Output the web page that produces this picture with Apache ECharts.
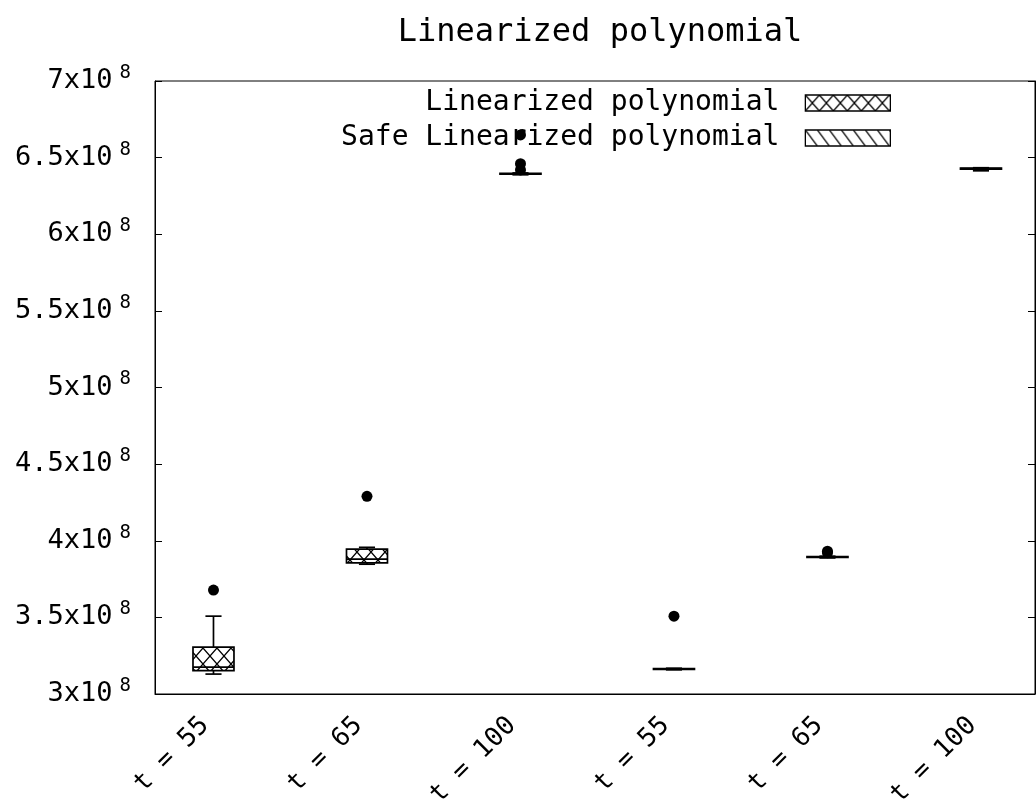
<!DOCTYPE html>
<html><head><meta charset="utf-8">
<script src="https://cdn.jsdelivr.net/npm/echarts@6/dist/echarts.min.js"></script>
<style>html,body{margin:0;padding:0;background:#fff}#c{width:1036px;height:805px}</style>
</head><body><div id="c"></div>
<script>
// ---- data ----
const chartTitle = 'Linearized polynomial';
const categories = ['t = 55', 't = 65', 't = 100', 't = 55', 't = 65', 't = 100'];
const seriesNames = ['Linearized polynomial', 'Safe Linearized polynomial'];
// [x, min, Q1, median, Q3, max]
const linearizedBoxes = [
  [1, 3.130e8, 3.153e8, 3.176e8, 3.306e8, 3.508e8],
  [2, 3.847e8, 3.855e8, 3.880e8, 3.945e8, 3.957e8],
  [3, 6.388e8, 6.392e8, 6.394e8, 6.397e8, 6.400e8]
];
const safeBoxes = [
  [4, 3.158e8, 3.161e8, 3.163e8, 3.166e8, 3.168e8],
  [5, 3.888e8, 3.891e8, 3.893e8, 3.896e8, 3.899e8],
  [6, 6.414e8, 6.425e8, 6.428e8, 6.431e8, 6.434e8]
];
const linearizedOutliers = [[1, 3.678e8], [2, 4.290e8], [3, 6.460e8], [3, 6.420e8], [3, 6.648e8]];
const safeOutliers = [[4, 3.508e8], [5, 3.932e8], [5, 3.922e8]];
const yMin = 3e8, yMax = 7e8, yStep = 0.5e8;

// ---- styles ----
const FONT = 'DejaVu Sans Mono';
const BOX_WIDTH = 0.267;
const CAP_WIDTH = 0.105;

function makePattern(type) {
  const w = type === 'cross' ? 14 : 12, h = 16;
  const c = document.createElement('canvas');
  c.width = w; c.height = h;
  const g = c.getContext('2d');
  g.fillStyle = '#fff'; g.fillRect(0, 0, w, h);
  g.strokeStyle = '#000'; g.lineWidth = 1.3;
  g.beginPath();
  g.moveTo(0, 0); g.lineTo(w, h);
  if (type === 'cross') { g.moveTo(w, 0); g.lineTo(0, h); }
  g.stroke();
  return { image: c, repeat: 'repeat' };
}
const crossPattern = makePattern('cross');
const diagPattern = makePattern('diag');

function boxRenderer(pattern) {
  return function (params, api) {
    const x = api.value(0);
    const pMin = api.coord([x, api.value(1)]);
    const pQ1 = api.coord([x, api.value(2)]);
    const pMed = api.coord([x, api.value(3)]);
    const pQ3 = api.coord([x, api.value(4)]);
    const pMax = api.coord([x, api.value(5)]);
    const bw = api.size([BOX_WIDTH, 0])[0];
    const cw = api.size([CAP_WIDTH, 0])[0];
    const cx = pMed[0];
    const ls = { stroke: '#000', lineWidth: 1.7 };
    return {
      type: 'group',
      children: [
        { type: 'line', shape: { x1: cx, y1: pQ3[1], x2: cx, y2: pMax[1] }, style: ls },
        { type: 'line', shape: { x1: cx, y1: pQ1[1], x2: cx, y2: pMin[1] }, style: ls },
        { type: 'line', shape: { x1: cx - cw / 2, y1: pMax[1], x2: cx + cw / 2, y2: pMax[1] }, style: ls },
        { type: 'line', shape: { x1: cx - cw / 2, y1: pMin[1], x2: cx + cw / 2, y2: pMin[1] }, style: ls },
        { type: 'rect', shape: { x: cx - bw / 2, y: pQ3[1], width: bw, height: pQ1[1] - pQ3[1] },
          style: { fill: pattern, stroke: '#000', lineWidth: 1.7 } },
        { type: 'line', shape: { x1: cx - bw / 2, y1: pMed[1], x2: cx + bw / 2, y2: pMed[1] }, style: ls }
      ]
    };
  };
}

const legendCommon = {
  orient: 'vertical', align: 'right', right: 145, itemWidth: 85, itemHeight: 16,
  padding: 0, selectedMode: false,
  textStyle: { fontFamily: FONT, fontSize: 28, color: '#000', lineHeight: 30, padding: [0, 21, 0, 0] }
};

const chart = echarts.init(document.getElementById('c'), null, { renderer: 'canvas' });
chart.setOption({
  animation: false,
  backgroundColor: '#fff',
  title: {
    text: chartTitle, left: 595, top: 12, textAlign: 'center',
    textStyle: { fontFamily: FONT, fontSize: 32, fontWeight: 'normal', color: '#000' }
  },
  legend: [
    Object.assign({}, legendCommon, { top: 88, data: [{ name: seriesNames[0], icon: 'rect',
      itemStyle: { color: crossPattern, borderColor: '#000', borderWidth: 1.3 } }] }),
    Object.assign({}, legendCommon, { top: 123, data: [{ name: seriesNames[1], icon: 'rect',
      itemStyle: { color: diagPattern, borderColor: '#000', borderWidth: 1.3 } }] })
  ],
  grid: { left: 155, right: 1, top: 81, bottom: 111, containLabel: false, outerBoundsMode: 'none',
    show: true, borderColor: '#000', borderWidth: 1, backgroundColor: 'transparent' },
  xAxis: {
    type: 'value', min: 0.619, max: 6.352,
    axisLine: { show: true, lineStyle: { color: '#000', width: 1 } },
    axisTick: { show: false },
    splitLine: { show: false },
    axisLabel: {
      customValues: [1, 2, 3, 4, 5, 6],
      formatter: v => categories[Math.round(v) - 1],
      rotate: 45, margin: 19, padding: [0, 12, 0, 0],
      fontFamily: FONT, fontSize: 26, color: '#000'
    }
  },
  yAxis: [{
    type: 'value', min: yMin, max: yMax, interval: yStep,
    axisLine: { show: true, lineStyle: { color: '#000', width: 1 } },
    axisTick: { show: true, inside: true, length: 7, lineStyle: { color: '#000' } },
    splitLine: { show: false },
    axisLabel: {
      margin: 24,
      formatter: v => '{b|' + (+(v / 1e8).toFixed(1)) + 'x10}{s|8}',
      rich: {
        b: { fontFamily: FONT, fontSize: 27, color: '#000' },
        s: { fontFamily: FONT, fontSize: 19, color: '#000', padding: [0, 0, 16, 7] }
      }
    }
  }, {
    type: 'value', position: 'right', min: yMin, max: yMax, interval: yStep,
    axisLine: { show: true, lineStyle: { color: '#000', width: 1 } },
    axisTick: { show: true, inside: true, length: 7, lineStyle: { color: '#000' } },
    splitLine: { show: false },
    axisLabel: { show: false }
  }],
  series: [
    { name: seriesNames[0], type: 'custom', silent: true, clip: false,
      itemStyle: { color: crossPattern, borderColor: '#000' },
      encode: { x: 0, y: [1, 2, 3, 4, 5] },
      renderItem: boxRenderer(crossPattern), data: linearizedBoxes },
    { name: seriesNames[1], type: 'custom', silent: true, clip: false,
      itemStyle: { color: diagPattern, borderColor: '#000' },
      encode: { x: 0, y: [1, 2, 3, 4, 5] },
      renderItem: boxRenderer(diagPattern), data: safeBoxes },
    { name: 'outliers1', type: 'scatter', silent: true, symbol: 'circle', symbolSize: 11,
      itemStyle: { color: '#000', opacity: 1 }, data: linearizedOutliers },
    { name: 'outliers2', type: 'scatter', silent: true, symbol: 'circle', symbolSize: 11,
      itemStyle: { color: '#000', opacity: 1 }, data: safeOutliers }
  ]
});
</script>
</body></html>
